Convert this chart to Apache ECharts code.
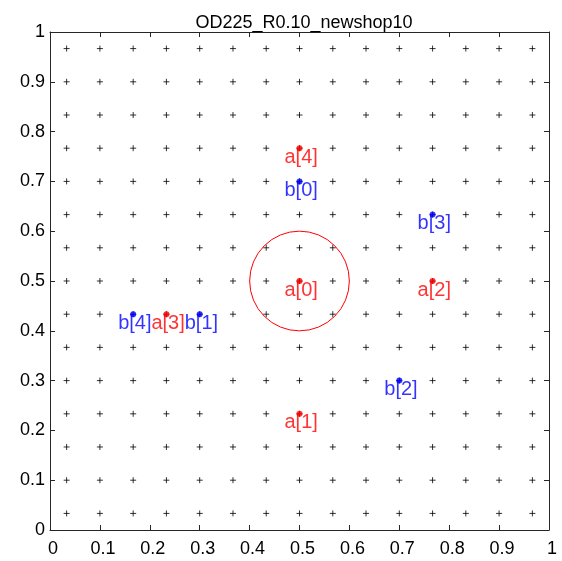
<!DOCTYPE html>
<html>
<head>
<meta charset="utf-8">
<script src="https://cdn.jsdelivr.net/npm/echarts@6/dist/echarts.min.js"></script>
<style>
html, body { margin: 0; padding: 0; background: #fff; }
#container { width: 562px; height: 561px; }
</style>
</head>
<body>
<div id="container"></div>
<script>
var titleText = 'OD225_R0.10_newshop10';
var tickVals = [0, 0.1, 0.2, 0.3, 0.4, 0.5, 0.6, 0.7, 0.8, 0.9, 1];
var tickLabels = ['0', '0.1', '0.2', '0.3', '0.4', '0.5', '0.6', '0.7', '0.8', '0.9', '1'];

// the small + marks, one at every cell centre of the 15x15 grid
var gridPos = [0.0333, 0.1, 0.1667, 0.2333, 0.3, 0.3667, 0.4333, 0.5,
               0.5667, 0.6333, 0.7, 0.7667, 0.8333, 0.9, 0.9667];

var aNames = ['a[0]', 'a[1]', 'a[2]', 'a[3]', 'a[4]'];
var aX = [0.5, 0.5, 0.7667, 0.2333, 0.5];
var aY = [0.5, 0.2333, 0.5, 0.4333, 0.7667];

var bNames = ['b[0]', 'b[1]', 'b[2]', 'b[3]', 'b[4]'];
var bX = [0.5, 0.3, 0.7, 0.7667, 0.1667];
var bY = [0.7, 0.4333, 0.3, 0.6333, 0.4333];

var circleCenter = [0.5, 0.5];
var circleR = 0.1;

var FONT = '"Liberation Sans", Arial, sans-serif';
var AXIS_COLOR = '#262626';

var plusData = [];
for (var i = 0; i < gridPos.length; i++) {
  for (var j = 0; j < gridPos.length; j++) {
    plusData.push([gridPos[i], gridPos[j]]);
  }
}

function pointData(xs, ys, names) {
  var out = [];
  for (var k = 0; k < xs.length; k++) {
    out.push([xs[k], ys[k], names[k]]);
  }
  return out;
}

function tickFormatter(v) {
  for (var k = 0; k < tickVals.length; k++) {
    if (Math.abs(tickVals[k] - v) < 1e-6) return tickLabels[k];
  }
  return '';
}

function pointSeries(name, data, color) {
  return {
    name: name,
    type: 'scatter',
    data: data,
    symbol: 'circle',
    symbolSize: 6,
    z: 5,
    itemStyle: { color: color },
    label: {
      show: true,
      position: 'inside',
      align: 'left',
      verticalAlign: 'middle',
      offset: [-15, 9],
      formatter: function (p) { return p.data[2]; },
      color: color,
      fontSize: 20,
      fontFamily: FONT
    }
  };
}

var mainAxis = function (pos, showLabel) {
  return {
    type: 'value',
    position: pos,
    min: 0,
    max: 1,
    interval: 0.1,
    splitLine: { show: false },
    axisLine: { show: true, onZero: false, lineStyle: { color: AXIS_COLOR, width: 1 } },
    axisTick: { show: true, inside: true, length: 5, lineStyle: { color: AXIS_COLOR } },
    axisLabel: { show: showLabel }
  };
};

var xMain = mainAxis('bottom', true);
xMain.axisLabel = {
  show: true, formatter: tickFormatter, color: '#000', fontSize: 18, fontFamily: FONT,
  margin: 10, padding: [0, 0, 0, 6]
};
var yMain = mainAxis('left', true);
yMain.axisLabel = {
  show: true, formatter: tickFormatter, color: '#000', fontSize: 18, fontFamily: FONT,
  margin: 5, padding: [14, 0, 0, 0]
};

var dom = document.getElementById('container');
var myChart = echarts.init(dom, null, { renderer: 'canvas' });

var option = {
  animation: false,
  backgroundColor: '#fff',
  title: {
    text: titleText,
    left: 299,
    top: 9,
    textAlign: 'center',
    textStyle: { fontSize: 18, fontWeight: 'normal', color: '#000', fontFamily: FONT }
  },
  grid: { left: 50, right: 13, top: 32, bottom: 31 },
  xAxis: [xMain, mainAxis('top', false)],
  yAxis: [yMain, mainAxis('right', false)],
  series: [
    {
      name: 'grid',
      type: 'scatter',
      data: plusData,
      symbol: 'path://M0,-1L0,1M-1,0L1,0',
      symbolSize: 6,
      silent: true,
      itemStyle: { color: 'none', borderColor: '#000', borderWidth: 1 }
    },
    {
      name: 'circle',
      type: 'custom',
      data: [[circleCenter[0], circleCenter[1], circleR]],
      renderItem: function (params, api) {
        var c = api.coord([api.value(0), api.value(1)]);
        var s = api.size([api.value(2), api.value(2)]);
        return {
          type: 'circle',
          shape: { cx: c[0], cy: c[1], r: (s[0] + s[1]) / 2 },
          style: { fill: 'none', stroke: '#ff0000', lineWidth: 1 }
        };
      },
      z: 4
    },
    pointSeries('a', pointData(aX, aY, aNames), '#ff0000'),
    pointSeries('b', pointData(bX, bY, bNames), '#0000ff')
  ]
};

myChart.setOption(option);
</script>
</body>
</html>
